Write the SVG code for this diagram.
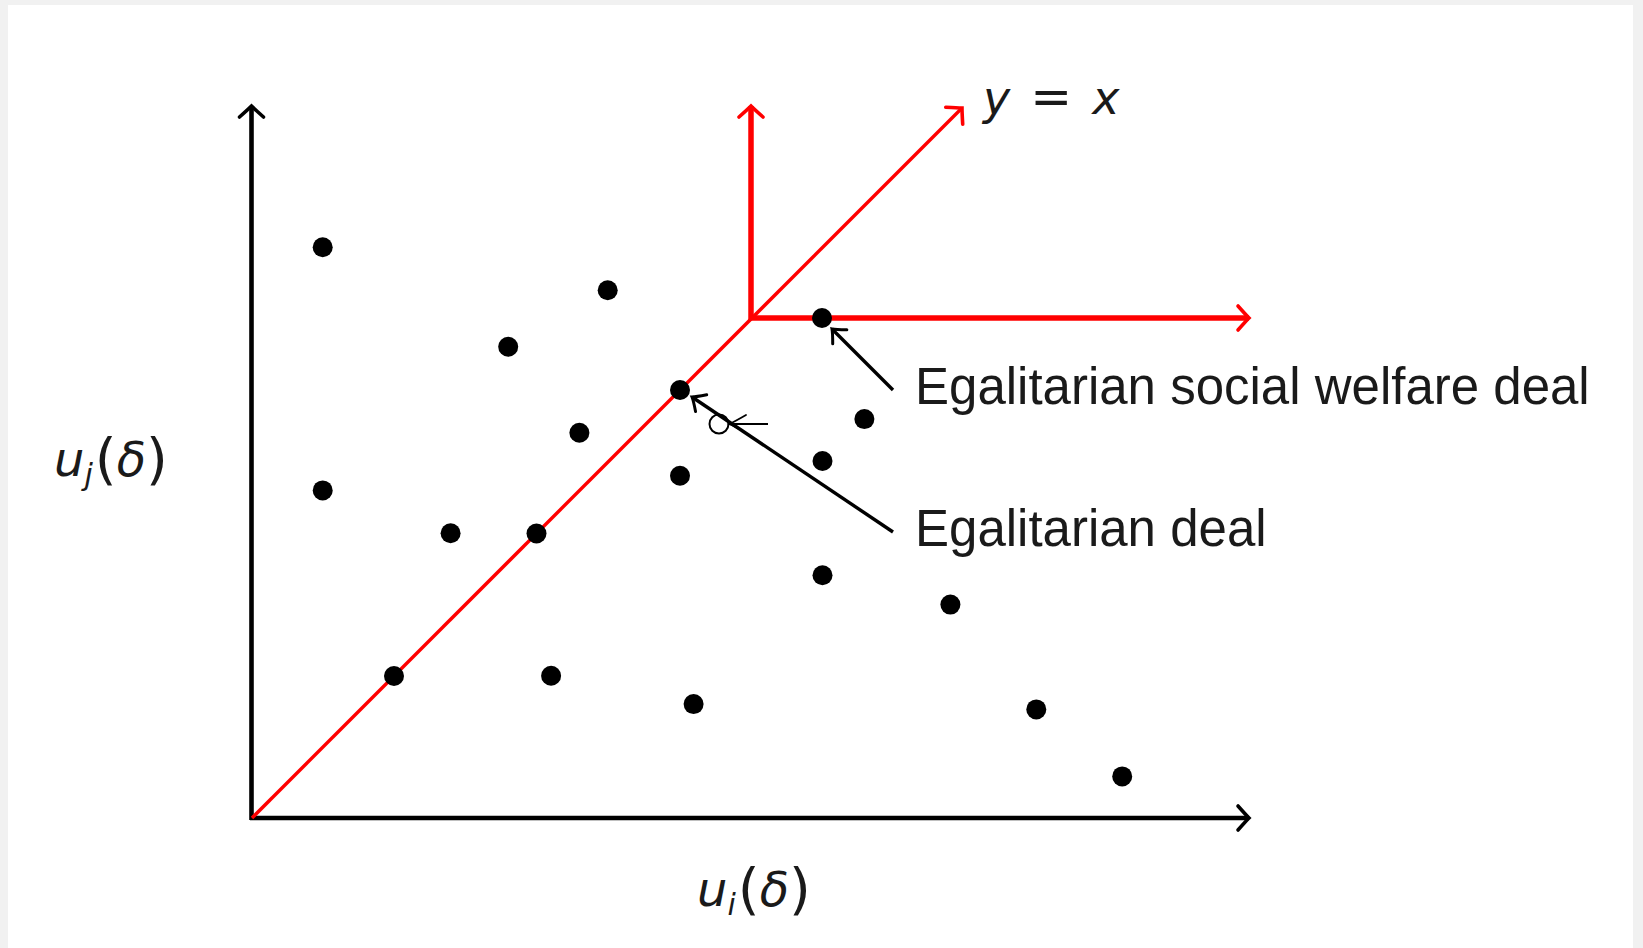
<svg xmlns="http://www.w3.org/2000/svg" width="1643" height="948" viewBox="0 0 1643 948">
<defs>
<style>
.axis{stroke:#000;stroke-width:4.6;fill:none}
.red{stroke:#ff0000;fill:none}
.ann{stroke:#000;stroke-width:3.4;fill:none}
.dot{fill:#000}
.lbl{font-family:"Liberation Sans",Arial,sans-serif;font-size:51px;fill:#1a1a1a}
.math{font-family:"DejaVu Sans","Liberation Sans",sans-serif;font-style:italic;fill:#1a1a1a}
.up{font-style:normal}
</style>
<marker id="hb" viewBox="-16 -16 20 32" markerWidth="20" markerHeight="32" refX="0" refY="0" orient="auto" markerUnits="userSpaceOnUse">
<path d="M-11,-12 Q-3,-3 0,0 Q-3,3 -11,12" fill="none" stroke="#000" stroke-width="3.6" stroke-linecap="round"/>
</marker>
<marker id="hr" viewBox="-16 -16 20 32" markerWidth="20" markerHeight="32" refX="0" refY="0" orient="auto" markerUnits="userSpaceOnUse">
<path d="M-11,-12 Q-3,-3 0,0 Q-3,3 -11,12" fill="none" stroke="#ff0000" stroke-width="3.6" stroke-linecap="round"/>
</marker>
<marker id="ha" viewBox="-14 -14 18 28" markerWidth="18" markerHeight="28" refX="0" refY="0" orient="auto" markerUnits="userSpaceOnUse">
<path d="M-11,-10 Q-3,-2 0,0 Q-3,2 -11,10" fill="none" stroke="#000" stroke-width="3" stroke-linecap="round"/>
</marker>
<marker id="hs" viewBox="-20 -14 24 28" markerWidth="24" markerHeight="28" refX="0" refY="0" orient="auto" markerUnits="userSpaceOnUse">
<path d="M-17,-9 Q-5,-2 0,0 Q-5,2 -17,9" fill="none" stroke="#000" stroke-width="1.8" stroke-linecap="round"/>
</marker>
</defs>
<rect x="0" y="0" width="1643" height="948" fill="#f1f1f1"/>
<rect x="8" y="5" width="1625" height="943" fill="#ffffff"/>

<g id="connectors">
<line id="x-axis" class="axis" x1="250" y1="818" x2="1249" y2="818" marker-end="url(#hb)"/>
<line id="y-axis" class="axis" x1="251.5" y1="820" x2="251.5" y2="106" marker-end="url(#hb)"/>
<line id="diag" class="red" stroke-width="3.4" x1="252" y1="818" x2="962" y2="108" marker-end="url(#hr)"/>
<line id="red-v" class="red" stroke-width="5.5" x1="751" y1="320" x2="751" y2="106" marker-end="url(#hr)"/>
<line id="red-h" class="red" stroke-width="5.5" x1="749" y1="318" x2="1249" y2="318" marker-end="url(#hr)"/>
<line id="arrow-eswd" class="ann" x1="893" y1="390" x2="832" y2="329" marker-end="url(#ha)"/>
<line id="arrow-ed" class="ann" x1="893" y1="532" x2="692" y2="397" marker-end="url(#ha)"/>
<circle cx="719" cy="424" r="9.5" fill="none" stroke="#000" stroke-width="2"/>
<line x1="768" y1="424" x2="729" y2="424" stroke="#000" stroke-width="2" marker-end="url(#hs)"/>
</g>

<g id="points">
<circle class="dot" cx="322.7" cy="247.3" r="10"/>
<circle class="dot" cx="607.7" cy="290.2" r="10"/>
<circle class="dot" cx="508.2" cy="346.8" r="10"/>
<circle class="dot" cx="822" cy="318" r="10"/>
<circle class="dot" cx="680" cy="390" r="10"/>
<circle class="dot" cx="579.4" cy="432.7" r="10"/>
<circle class="dot" cx="864.4" cy="419.1" r="10"/>
<circle class="dot" cx="822.5" cy="461" r="10"/>
<circle class="dot" cx="680" cy="475.7" r="10"/>
<circle class="dot" cx="322.7" cy="490.4" r="10"/>
<circle class="dot" cx="450.6" cy="533.3" r="10"/>
<circle class="dot" cx="536.5" cy="533.5" r="10"/>
<circle class="dot" cx="822.5" cy="575.2" r="10"/>
<circle class="dot" cx="950.4" cy="604.6" r="10"/>
<circle class="dot" cx="394" cy="676" r="10"/>
<circle class="dot" cx="551.1" cy="675.8" r="10"/>
<circle class="dot" cx="693.6" cy="704.1" r="10"/>
<circle class="dot" cx="1036.3" cy="709.4" r="10"/>
<circle class="dot" cx="1122.2" cy="776.4" r="10"/>
</g>

<g id="label-eswd"><text class="lbl" x="915" y="404">Egalitarian social welfare deal</text></g>
<g id="label-ed"><text class="lbl" x="915" y="546">Egalitarian deal</text></g>
<g id="label-yx"><text class="math" x="983" y="114" font-size="46">y<tspan class="up" dx="20" font-size="50">=</tspan><tspan dx="20">x</tspan></text></g>
<g id="label-uj"><text class="math" x="54" y="476" font-size="48">u<tspan font-size="30" dy="9">j</tspan><tspan class="up" font-size="56" dy="-7" dx="2">(</tspan><tspan font-size="48" dy="-2">δ</tspan><tspan class="up" font-size="56" dy="2">)</tspan></text></g>
<g id="label-ui"><text class="math" x="697" y="906" font-size="48">u<tspan font-size="30" dy="9">i</tspan><tspan class="up" font-size="56" dy="-7" dx="2">(</tspan><tspan font-size="48" dy="-2">δ</tspan><tspan class="up" font-size="56" dy="2">)</tspan></text></g>
</svg>
